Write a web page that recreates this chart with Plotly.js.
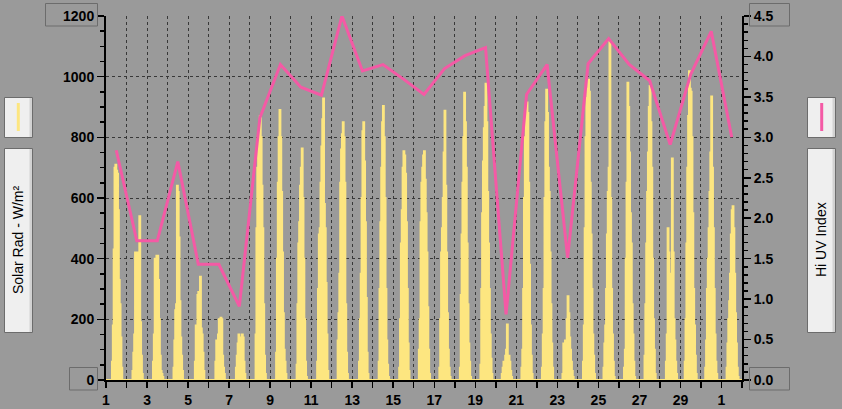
<!DOCTYPE html>
<html>
<head>
<meta charset="utf-8">
<script src="https://cdn.plot.ly/plotly-3.0.1.min.js"></script>
<style>
  html, body { margin: 0; padding: 0; background: #9a9a9a; }
  #chart { width: 842px; height: 409px; }
</style>
</head>
<body>
<div id="chart"></div>
<script>
// ---- Data ----
// Day index 0 = day 1 of the month; 31 days shown (1..30, then 1 of next month)
const xTickVals = [0, 2, 4, 6, 8, 10, 12, 14, 16, 18, 20, 22, 24, 26, 28, 30];
const xTickText = ["1", "3", "5", "7", "9", "11", "13", "15", "17", "19", "21", "23", "25", "27", "29", "1"];

// Solar radiation (W/m²): first hour of daylight readings per day, then hourly readings
const solarStartHour = [6, 6, 6, 6, 7, 7, 7, 6, 6, 6, 6, 6, 7, 6, 6, 5, 5, 5, 5, 6, 5, 5, 5, 5, 5, 5, 5, 6, 4, 4, 5];
const solarHourly = [
  [0, 60, 180, 430, 700, 710, 690, 680, 560, 330, 250, 140, 40, 0],
  [0, 30, 90, 150, 420, 420, 420, 400, 380, 540, 190, 80, 20, 0],
  [0, 60, 150, 400, 310, 410, 410, 330, 200, 80, 30, 20, 10, 0],
  [0, 40, 130, 230, 250, 640, 620, 470, 260, 140, 80, 30, 0],
  [0, 60, 180, 170, 280, 290, 250, 340, 170, 150, 90, 30, 0],
  [0, 60, 130, 100, 150, 200, 180, 205, 200, 80, 40, 20, 0],
  [0, 40, 80, 120, 150, 140, 110, 120, 150, 140, 60, 20, 0],
  [0, 150, 500, 700, 780, 820, 870, 800, 640, 500, 250, 80, 20, 0],
  [0, 90, 400, 650, 800, 890, 800, 620, 420, 220, 100, 60, 20, 0],
  [0, 50, 250, 450, 520, 640, 700, 763, 600, 400, 200, 60, 10, 0],
  [0, 60, 300, 480, 500, 650, 770, 860, 928, 580, 500, 320, 150, 30, 0],
  [0, 130, 220, 350, 650, 760, 810, 850, 800, 650, 250, 90, 20, 0],
  [0, 60, 200, 350, 600, 820, 850, 720, 520, 270, 90, 20, 0],
  [0, 60, 300, 520, 700, 850, 903, 800, 600, 300, 130, 50, 10, 0],
  [0, 40, 200, 450, 560, 700, 754, 740, 680, 520, 300, 120, 30, 0],
  [0, 100, 200, 520, 650, 700, 740, 754, 660, 550, 420, 240, 100, 20, 0],
  [0, 40, 200, 420, 500, 600, 750, 888, 640, 420, 220, 100, 40, 10, 0],
  [0, 40, 280, 480, 650, 800, 947, 850, 700, 450, 250, 120, 60, 10, 0],
  [0, 50, 300, 550, 720, 830, 900, 977, 850, 620, 450, 300, 150, 70, 20, 0],
  [0, 20, 40, 60, 50, 80, 100, 183, 70, 80, 60, 30, 10, 0],
  [0, 40, 100, 300, 600, 800, 880, 915, 880, 650, 380, 180, 80, 20, 0],
  [0, 40, 150, 300, 600, 850, 957, 880, 700, 620, 420, 250, 120, 40, 0],
  [0, 20, 120, 80, 130, 60, 200, 276, 220, 140, 100, 60, 30, 10, 0],
  [0, 60, 180, 500, 800, 930, 960, 990, 950, 650, 480, 300, 150, 80, 20, 0],
  [0, 40, 120, 180, 300, 480, 620, 700, 1117, 600, 300, 150, 60, 10, 0],
  [0, 40, 100, 400, 650, 980, 900, 750, 550, 450, 250, 150, 60, 10, 0],
  [0, 80, 250, 450, 620, 750, 900, 969, 850, 700, 400, 200, 100, 20, 0],
  [0, 60, 150, 500, 420, 300, 280, 350, 730, 420, 200, 130, 60, 20, 0],
  [0, 60, 200, 450, 700, 870, 1018, 960, 950, 800, 550, 300, 180, 80, 20, 0],
  [0, 40, 130, 300, 400, 500, 620, 750, 935, 700, 500, 300, 150, 60, 20, 0],
  [0, 40, 120, 200, 260, 350, 480, 560, 573, 500, 350, 220, 120, 40, 10, 0]
];

// Daily high UV index (one value per day, plotted at midday)
const uvHigh = [2.84, 1.72, 1.72, 2.70, 1.43, 1.43, 0.91, 3.24, 3.90, 3.62, 3.52, 4.50, 3.82, 3.90, 3.72,
                3.53, 3.85, 4.01, 4.11, 0.81, 3.53, 3.90, 1.51, 3.91, 4.22, 3.90, 3.70, 2.91, 3.78, 4.31, 3.00];

const leftAxisLabel = "Solar Rad - W/m²";
const rightAxisLabel = "Hi UV Index";

// ---- Build series ----
const solarX = [], solarY = [];
for (let d = 0; d < solarHourly.length; d++) {
  solarX.push(d); solarY.push(0);
  const vals = solarHourly[d];
  for (let k = 0; k < vals.length; k++) {
    solarX.push(d + (solarStartHour[d] + k) / 24);
    solarY.push(vals[k]);
  }
}
solarX.push(solarHourly.length); solarY.push(0);

const uvX = uvHigh.map((v, i) => i + 0.5);

// ---- Layout geometry (pixels) ----
const W = 842, H = 409;
const L = 106, R = 100, T = 16, B = 29;
const pw = W - L - R, ph = H - T - B;
const px = p => (p - L) / pw;
const py = p => (H - B - p) / ph;

const BG = '#9a9a9a';
const GRID = '#383838';
const YELLOW = '#fde680';
const PINK = '#f45aa5';
const BORDER = '#6c6c6c';
const tickFont = { family: 'Liberation Sans, Arial, sans-serif', size: 14, color: '#000', weight: 'bold' };

function rect(x0, y0, x1, y1, fill, line) {
  return { type: 'rect', xref: 'paper', yref: 'paper', x0: px(x0), x1: px(x1), y0: py(y1), y1: py(y0),
           fillcolor: fill || 'rgba(0,0,0,0)', line: { color: line || BORDER, width: 1 }, layer: 'above' };
}
function strip(x0, y0, x1, y1) {
  return { type: 'rect', xref: 'paper', yref: 'paper', x0: px(x0), x1: px(x1), y0: py(y1), y1: py(y0),
           fillcolor: '#d2d2d2', line: { width: 0 }, layer: 'above' };
}
function vline(x, y0, y1, color) {
  return { type: 'line', xref: 'paper', yref: 'paper', x0: px(x), x1: px(x), y0: py(y1), y1: py(y0),
           line: { color: color, width: 3 }, layer: 'above' };
}

const shapes = [
  // boxes around end tick labels
  rect(45.5, 3.5, 97.5, 26),
  rect(69.5, 367.5, 97.5, 390),
  rect(749.5, 3.5, 789.5, 26),
  rect(749.5, 367.5, 789.5, 390),
  // left legend swatch box
  rect(4.5, 97.5, 32.5, 137.5, '#efefef'),
  strip(29.5, 98, 32, 137),
  vline(18.3, 103, 131, YELLOW),
  // left title box
  rect(4.5, 148.5, 32.5, 332.5, '#efefef'),
  strip(29.5, 149, 32, 332),
  // right legend swatch box
  rect(807.5, 97.5, 835.5, 137.5, '#efefef'),
  strip(832.5, 98, 835, 137),
  vline(821.7, 103, 131, PINK),
  // right title box
  rect(807.5, 148.5, 835.5, 332.5, '#efefef'),
  strip(832.5, 149, 835, 332)
];

const annotations = [
  { xref: 'paper', yref: 'paper', x: px(18), y: py(240), text: leftAxisLabel, textangle: -90, showarrow: false,
    xanchor: 'center', yanchor: 'middle', font: { family: 'Liberation Sans, Arial, sans-serif', size: 14, color: '#000' } },
  { xref: 'paper', yref: 'paper', x: px(821), y: py(240), text: rightAxisLabel, textangle: -90, showarrow: false,
    xanchor: 'center', yanchor: 'middle', font: { family: 'Liberation Sans, Arial, sans-serif', size: 14, color: '#000' } }
];

const traces = [
  { x: solarX, y: solarY, type: 'scatter', mode: 'lines', line: { color: YELLOW, width: 2, shape: 'hv' },
    fill: 'tozeroy', fillcolor: YELLOW,
    yaxis: 'y', hoverinfo: 'skip', name: leftAxisLabel },
  { x: uvX, y: uvHigh, type: 'scatter', mode: 'lines', line: { color: PINK, width: 3 },
    yaxis: 'y2', hoverinfo: 'skip', name: rightAxisLabel }
];

const layout = {
  width: W, height: H,
  paper_bgcolor: BG, plot_bgcolor: BG,
  margin: { l: L, r: R, t: T, b: B, pad: 0 },
  showlegend: false,
  xaxis: {
    range: [0, 31], tickmode: 'array', tickvals: xTickVals, ticktext: xTickText,
    ticks: 'outside', ticklen: 6, tickwidth: 1.5, tickcolor: '#000',
    showgrid: true, gridcolor: GRID, gridwidth: 1, griddash: '3px,3px',
    minor: { dtick: 1, tick0: 0, ticks: 'outside', ticklen: 6, tickwidth: 1.5, tickcolor: '#000', showgrid: true, gridcolor: GRID, gridwidth: 1, griddash: '3px,3px' },
    showline: true, linecolor: '#000', linewidth: 2, zeroline: false,
    tickfont: tickFont, fixedrange: true
  },
  yaxis: {
    range: [0, 1200], dtick: 200, tick0: 0,
    ticks: 'outside', ticklen: 7, tickwidth: 1.5, tickcolor: '#000',
    showgrid: true, gridcolor: GRID, gridwidth: 1, griddash: '3px,3px',
    minor: { dtick: 50, ticks: 'outside', ticklen: 4, tickwidth: 1.5, tickcolor: '#000', showgrid: false },
    showline: true, linecolor: '#000', linewidth: 2, zeroline: false,
    tickfont: tickFont, fixedrange: true
  },
  yaxis2: {
    range: [0, 4.5], dtick: 0.5, tick0: 0, tickformat: '.1f', overlaying: 'y', side: 'right',
    ticks: 'outside', ticklen: 7, tickwidth: 1.5, tickcolor: '#000',
    showgrid: false,
    minor: { dtick: 0.1, ticks: 'outside', ticklen: 4, tickwidth: 1.5, tickcolor: '#000', showgrid: false },
    showline: true, linecolor: '#000', linewidth: 2, zeroline: false,
    tickfont: tickFont, fixedrange: true
  },
  shapes: shapes,
  annotations: annotations
};

Plotly.newPlot('chart', traces, layout, { displayModeBar: false, staticPlot: true });
</script>
</body>
</html>
